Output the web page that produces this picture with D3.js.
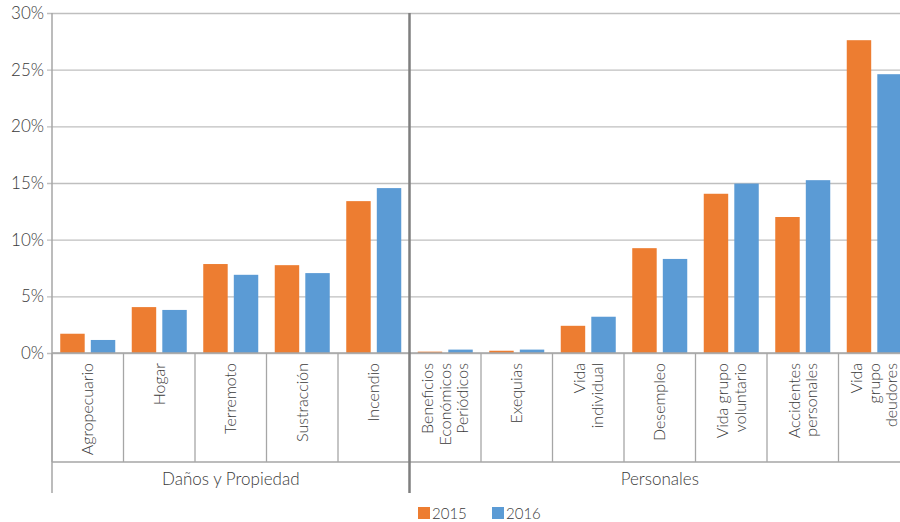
<!DOCTYPE html>
<html>
<head>
<meta charset="utf-8">
<script src="https://cdn.jsdelivr.net/npm/d3@7"></script>
<style>
  html, body { margin: 0; padding: 0; background: #fff; }
  svg { display: block; }
  text { font-family: Lato, "Open Sans", sans-serif; fill: #3a3a3a; }
</style>
</head>
<body>
<svg id="chart" width="900" height="522"></svg>
<script>
// Ramos de seguro (each label line is a separate array entry)
const categories = [
  ["Agropecuario"], ["Hogar"], ["Terremoto"], ["Sustracción"], ["Incendio"],
  ["Beneficios", "Económicos", "Periódicos"], ["Exequias"], ["Vida", "individual"],
  ["Desempleo"], ["Vida grupo", "voluntario"], ["Accidentes", "personales"],
  ["Vida", "grupo", "deudores"]
];
const groups = ["Daños y Propiedad", "Personales"];
const groupSizes = [5, 7];
const seriesNames = ["2015", "2016"];
const values2015 = [1.7, 4.05, 7.85, 7.75, 13.4, 0.12, 0.2, 2.4, 9.25, 14.05, 12.0, 27.6];
const values2016 = [1.15, 3.8, 6.9, 7.05, 14.55, 0.3, 0.3, 3.2, 8.3, 14.95, 15.25, 24.6];
const yTicks = [0, 5, 10, 15, 20, 25, 30];
const colors = ["#ED7D31", "#5B9BD5"];

const svg = d3.select("#chart");
const m = { left: 52, right: 910, top: 13, bottom: 353 };
const catBottom = 462, axisBottom = 493;

const x = d3.scaleBand().domain(d3.range(categories.length)).range([m.left, m.right]);
const xInner = d3.scaleBand().domain([0, 1]).range([0, x.bandwidth()])
  .paddingInner(0.2).paddingOuter(0.27);
const y = d3.scaleLinear().domain([0, 30]).range([m.bottom, m.top]);

// Horizontal gridlines with outward ticks and labels
const yAxis = d3.axisLeft(y).tickValues(yTicks)
  .tickSize(-(m.right - m.left)).tickPadding(8).tickFormat(d => d + "%");
const gy = svg.append("g").attr("transform", `translate(${m.left},0)`).call(yAxis);
gy.select(".domain").remove();
gy.selectAll(".tick line").attr("stroke", "#bfbfbf").attr("stroke-width", 1.3)
  .attr("x1", -5);
gy.selectAll(".tick text").attr("font-size", 17).attr("fill", "#3a3a3a")
  .attr("font-family", "Lato, sans-serif").attr("font-weight", 300).attr("x", -8);

// Bars
const data = categories.map((c, i) => [values2015[i], values2016[i]]);
const cat = svg.append("g").selectAll("g").data(data).join("g")
  .attr("transform", (d, i) => `translate(${x(i)},0)`);
cat.selectAll("rect").data(d => d).join("rect")
  .attr("x", (d, j) => xInner(j))
  .attr("width", xInner.bandwidth())
  .attr("y", d => y(d))
  .attr("height", d => y(0) - y(d))
  .attr("fill", (d, j) => colors[j]);

// Category separators
const axisCol = "#a6a6a6";
svg.append("g").selectAll("line").data(d3.range(categories.length + 1)).join("line")
  .attr("x1", i => m.left + i * x.step()).attr("x2", i => m.left + i * x.step())
  .attr("y1", m.bottom).attr("y2", catBottom)
  .attr("stroke", axisCol).attr("stroke-width", 1.3);

// Left axis line, baseline and group line
svg.append("line").attr("x1", m.left).attr("x2", m.left).attr("y1", m.top).attr("y2", axisBottom)
  .attr("stroke", axisCol).attr("stroke-width", 1.5);
svg.append("line").attr("x1", m.left).attr("x2", m.right).attr("y1", m.bottom).attr("y2", m.bottom)
  .attr("stroke", axisCol).attr("stroke-width", 1.3);
svg.append("line").attr("x1", m.left).attr("x2", m.right).attr("y1", catBottom).attr("y2", catBottom)
  .attr("stroke", axisCol).attr("stroke-width", 1.3);

// Category labels, rotated
const labelTop = 363, lineGap = 17.5;
categories.forEach((lines, i) => {
  const cx = x(i) + x.bandwidth() / 2;
  const n = lines.length;
  lines.forEach((t, k) => {
    const lx = cx + (k - (n - 1) / 2) * lineGap + 5.5;
    svg.append("text")
      .attr("transform", `translate(${lx},${labelTop}) rotate(-90)`)
      .attr("text-anchor", "end")
      .attr("font-size", 16)
      .attr("font-weight", 300)
      .text(t);
  });
});

// Group labels
let start = 0;
groups.forEach((g, gi) => {
  const x0 = m.left + start * x.step();
  const x1 = m.left + (start + groupSizes[gi]) * x.step();
  svg.append("text").attr("x", (x0 + x1) / 2).attr("y", 484.5)
    .attr("text-anchor", "middle").attr("font-size", 17).attr("font-weight", 300).text(g);
  start += groupSizes[gi];
});
// Divider between the two groups
const divX = m.left + groupSizes[0] * x.step();
svg.append("line").attr("x1", divX).attr("x2", divX).attr("y1", m.top).attr("y2", axisBottom)
  .attr("stroke", "#7f7f7f").attr("stroke-width", 2.5);

// Legend
const legend = svg.append("g").attr("transform", "translate(418,507)");
seriesNames.forEach((s, j) => {
  const g = legend.append("g").attr("transform", `translate(${j * 74},0)`);
  g.append("rect").attr("width", 12).attr("height", 12).attr("fill", colors[j]);
  g.append("text").attr("x", 14).attr("y", 11.5).attr("font-size", 15).attr("font-weight", 300).text(s);
});
</script>
</body>
</html>
